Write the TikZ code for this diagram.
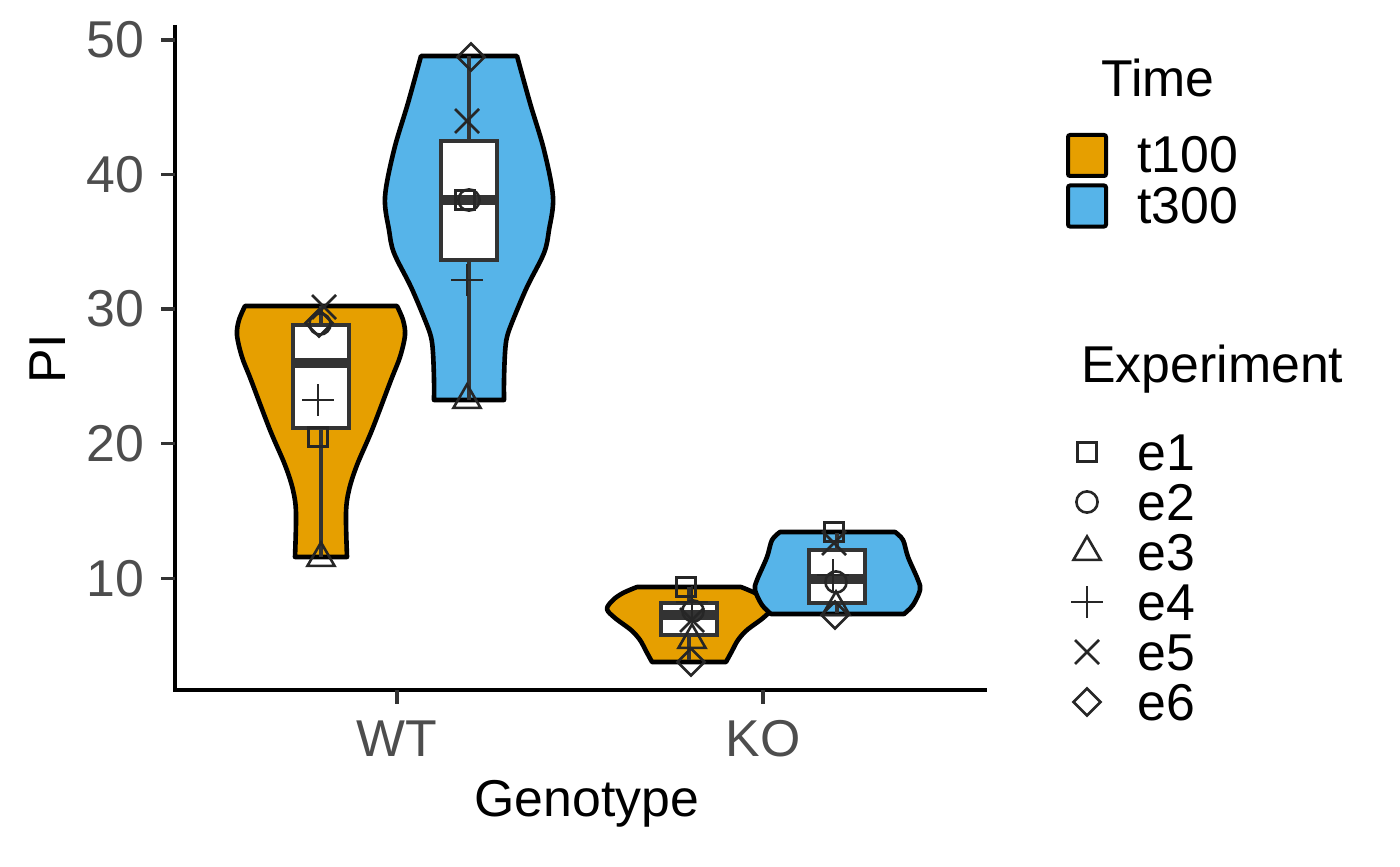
\documentclass[tikz,border=0pt]{standalone}
\usepackage{fontspec}
\setmainfont{Liberation Sans}
\usetikzlibrary{shapes.geometric}
\usetikzlibrary{shapes.misc}
\usetikzlibrary{positioning}
\definecolor{t100col}{HTML}{E69F00}
\definecolor{t300col}{HTML}{56B4E9}
\definecolor{boxcol}{HTML}{333333}
\definecolor{ptcol}{HTML}{262626}
\definecolor{tickcol}{HTML}{4D4D4D}
\tikzset{
  violin/.style={draw=black, line width=2.3pt, line join=round},
  whisk/.style={draw=boxcol, line width=1.7pt},
  boxst/.style={draw=boxcol, fill=white, line width=2pt},
  median/.style={draw=boxcol, line width=5pt},
  axisline/.style={draw=black, line width=1.7pt},
  axtick/.style={draw=boxcol, line width=1.7pt},
  ticklab/.style={text=tickcol, inner sep=0pt},
  title/.style={inner sep=0pt},
  keybox/.style={draw=black, line width=2pt, rounded corners=1pt, minimum width=19pt, minimum height=20.5pt, inner sep=0pt},
  ptbase/.style={draw=ptcol, line width=1.3pt, inner sep=0pt, outer sep=0pt},
  pe1/.style={ptbase, rectangle, minimum size=9.7pt},
  pe2/.style={ptbase, circle, minimum size=10.6pt},
  pe3/.style={ptbase, regular polygon, regular polygon sides=3, minimum size=15.6pt},
  pe4/.style={ptbase, cross out, minimum size=11.3pt, rotate=45},
  pe5/.style={ptbase, cross out, minimum size=12pt},
  pe6/.style={ptbase, diamond, aspect=1, minimum size=13.5pt}
  }

\begin{document}
\begin{tikzpicture}[x=0.5pt, y=-0.5pt, font=\fontsize{25.9pt}{31pt}\selectfont]
	\useasboundingbox (0,0) rectangle (1400,866);

	% Violins
	\draw[violin, fill=t100col] plot[smooth, tension=0.55] coordinates {(397,306) (403,320) (405,335) (400,357) (391,380) (372,430) (357,465) (349,490) (346,513) (347,557)}
	  -- plot[smooth, tension=0.55] coordinates {(295,557) (296,513) (293,490) (285,465) (270,430) (251,380) (242,357) (237,335) (239,320) (245,306)} -- cycle;
	\draw[violin, fill=t300col] plot[smooth, tension=0.55] coordinates {(517,56) (530,103) (544,150) (553,197) (549,230) (544,253) (527,287) (513,320) (507,337) (505,353) (504,380) (504,400)}
	  -- plot[smooth, tension=0.55] coordinates {(434,400) (434,380) (433,353) (431,337) (425,320) (411,287) (394,253) (389,230) (385,197) (394,150) (408,103) (421,56)} -- cycle;
	\draw[violin, fill=t100col] plot[smooth, tension=0.55] coordinates {(741,587) (755,593) (765,600) (771,609) (763,618) (747,630) (738,640) (732,651) (726,662)}
	  -- plot[smooth, tension=0.55] coordinates {(652,662) (646,651) (640,640) (631,630) (615,618) (607,609) (613,600) (623,593) (637,587)} -- cycle;
	\draw[violin, fill=t300col] plot[smooth, tension=0.55] coordinates {(895,532) (903,540) (908,557) (918,580) (920,590) (913,605) (904,614)}
	  -- plot[smooth, tension=0.55] coordinates {(771,614) (762,605) (755,590) (757,580) (767,557) (772,540) (780,532)} -- cycle;

	% Boxes
	\foreach \cx/\hi/\qb/\md/\qa/\lo in {321/306/325/363/428/557, 469/56/141/200/260/400, 689/587/603/615/635/660, 837/533/550/579/603/613} {
	  \draw[whisk] (\cx,\hi) -- (\cx,\lo);
	  \draw[boxst] ({\cx-28},\qb) rectangle ({\cx+28},\qa);
	  \draw[median] ({\cx-28},\md) -- ({\cx+28},\md);
	}

	% Points
	\foreach \n/\s/\x/\y in {5/pe5/324/307, 6/pe6/319/323, 2/pe2/320/324, 4/pe4/318/400, 1/pe1/318/437, 3/pe3/321/558}
	  \node[\s] (wta\n) at (\x,\y) {};
	\foreach \n/\s/\x/\y in {6/pe6/471/57, 5/pe5/467/121, 1/pe1/465/200, 2/pe2/469/200, 4/pe4/467/280, 3/pe3/467/400}
	  \node[\s] (wtb\n) at (\x,\y) {};
	\foreach \n/\s/\x/\y in {1/pe1/686/587, 4/pe4/692/602, 2/pe2/693/611, 5/pe5/692/620, 3/pe3/692/640, 6/pe6/691/662}
	  \node[\s] (koa\n) at (\x,\y) {};
	\foreach \n/\s/\x/\y in {1/pe1/834/532, 5/pe5/834/543, 4/pe4/833/575, 2/pe2/836/582, 3/pe3/836/607, 6/pe6/835/615}
	  \node[\s] (kob\n) at (\x,\y) {};

	% Axes
	\draw[axisline] (175,25) -- (175,690) -- (987,690);
	\foreach \v in {10,20,30,40,50} {
	  \draw[axtick] (161,{578.3-(\v-10)*13.46}) -- (175,{578.3-(\v-10)*13.46});
	  \node[ticklab, anchor=east] (ylab\v) at (145,{578.3-(\v-10)*13.46}) {\v};
	}
	\draw[axtick] (397,690) -- (397,704);
	\draw[axtick] (763,690) -- (763,704);
	\node[ticklab, anchor=base] (xwt) at (397,756) {WT};
	\node[ticklab, anchor=base] (xko) at (763,756) {KO};
	\node[title, anchor=base] (xtitle) at (587,816) {Genotype};
	\node[title, anchor=base, rotate=90] (ytitle) at (65,359) {PI};

	% Legend
	\node[title, anchor=base west] (timetitle) at (1101,97) {Time};
	\node[keybox, fill=t100col] (key100) at (1087,155.5) {};
	\node[keybox, fill=t300col] (key300) at (1087,206) {};
	\node[title, anchor=base west] (lab100) at (1137,173) {t100};
	\node[title, anchor=base west] (lab300) at (1137,223) {t300};
	\node[title, anchor=base west] (exptitle) at (1081,382) {Experiment};
	\foreach \i in {1,...,6} {
	  \node[pe\i] (keye\i) at (1087,{452+50*(\i-1)}) {};
	  \node[title, anchor=base west] (labe\i) at (1137,{470+50*(\i-1)}) {e\i};
	}
\end{tikzpicture}
\end{document}
